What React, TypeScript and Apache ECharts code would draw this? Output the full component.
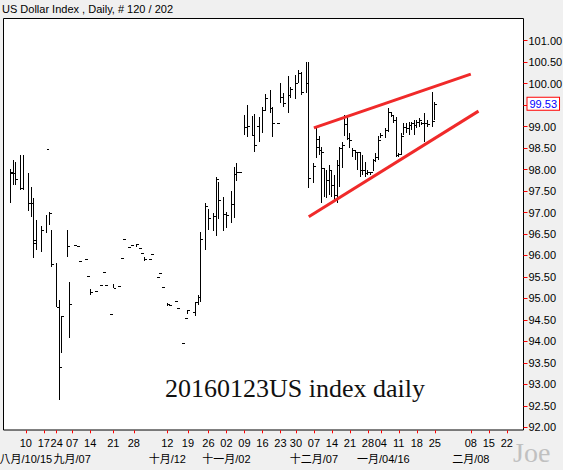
import React, { useEffect, useRef } from "react";
import * as echarts from "echarts";

const SLOT_COUNT = 202;

const weekTickSlots = [8, 15, 20, 26, 33, 42, 50, 63, 71, 79, 86, 93, 100, 107, 113, 120, 127, 134, 141, 146, 153, 160, 167, 181, 188, 195];
const weekTickLabels = ["10", "17", "24", "07", "14", "21", "28", "12", "19", "26", "02", "09", "16", "23", "30", "07", "14", "21", "28", "04", "11", "18", "25", "08", "15", "22"];
const monthSlots = [8, 26, 63, 86, 120, 147, 181];
const monthLabels = ["八月/10/15", "九月/07", "十月/12", "十一月/02", "十二月/07", "一月/04/16", "二月/08"];

const barSlot = [
  2, 3, 4, 6, 7, 9, 10, 11, 12, 14, 16, 17, 18, 20, 21, 22, 24, 25,
  27, 28, 29, 31, 32, 33, 35, 37, 38, 39, 41, 42, 44, 45, 46, 48, 49, 51, 52, 53, 54, 56, 57, 59, 60, 61,
  63, 64, 66, 67, 69, 70, 71, 74, 75, 76, 78, 79, 81, 82, 83, 85, 86, 88, 89, 90, 91,
  93, 94, 96, 97, 99, 100, 101, 103, 104, 106, 107, 108, 110, 111, 113, 114, 115, 117, 118,
  120, 121, 122, 123, 124, 125, 126, 127, 128, 129, 130, 131, 132, 133, 134, 135, 136, 137, 138, 139,
  140, 141, 142, 143, 144, 145, 146, 148, 149, 150, 151, 152, 153, 154, 155, 156, 157, 158, 159, 160,
  161, 162, 163, 164, 166, 167,
];
const barOpen = [
  null, 97.91, null, null, 97.56, null, 97.22, null, 96.36, null, null, 98.47, null, null, null, null, null, null,
  null, null, null, null, null, null, null, null, null, null, null, null, null, null, null, null, null, null, null, null, null, null, null, null, null, null,
  null, null, null, null, null, null, null, 94.68, null, null, null, null, null, null, null, null, 96.96, null, null, null, null,
  null, null, null, null, 99.01, null, null, null, null, null, null, null, null, null, null, null, null, null, null,
  null, null, 98.53, null, 98.03, null, null, null, null, null, null, null, null, null, null, null, null, null, 98.42, null,
  null, null, null, null, null, null, null, null, null, null, null, null, null, null, null, null, null, null, null, null,
  null, null, null, null, null, null,
];
const barHigh = [
  98.01, 98.22, 98.18, 98.34, 98.34, 97.93, 97.60, 97.33, 96.83, 96.69, 96.94, 97.02, 96.59, 95.82, 94.96, 94.58, 96.59, 95.38,
  96.24, 96.22, 95.87, 95.92, 95.52, 95.21, 95.17, 95.31, 95.61, 95.31, 94.64, 95.34, 95.29, 95.93, 96.38, 96.19, 96.24, 96.26, 96.18, 96.05, 95.97, 95.91, 96.03, 95.49, 95.59, 95.26,
  94.90, 94.84, 94.94, 94.77, 93.96, 94.54, 94.73, 94.92, 95.08, 96.54, 97.22, 97.08, 96.98, 97.82, 97.70, 97.35, 97.01, 97.50, 98.05, 98.15, 97.94,
  99.27, 99.50, 99.25, 99.29, 99.23, 99.46, 99.76, 99.85, 99.46, 99.08, 100.01, 99.78, 100.18, 99.93, 100.20, 100.32, 100.28, 100.51, 100.51,
  98.15, 98.96, 98.77, 98.53, 98.03, 97.99, 98.11, 97.99, 97.87, 98.22, 98.53, 98.65, 99.27, 99.23, 98.84, 98.50, 98.46, 98.42, 98.42, 98.34,
  98.18, 97.99, 97.95, 98.25, 98.38, 98.77, 98.84, 98.96, 99.43, 99.35, 99.27, 99.23, 98.38, 98.84, 99.08, 99.08, 99.11, 99.11, 99.15, 99.15,
  99.19, 99.11, 99.31, 99.15, 99.81, 99.58,
];
const barLow = [
  97.22, 97.64, 97.64, 97.52, 97.52, 97.04, 96.89, 95.94, 96.13, 96.09, 96.52, 96.71, 95.74, 94.79, 92.64, 93.72, 95.97, 94.07,
  96.24, 96.22, 95.87, 95.92, 95.52, 95.07, 95.17, 95.31, 95.61, 95.31, 94.64, 95.24, 95.29, 95.93, 96.38, 96.19, 96.24, 96.20, 96.18, 96.05, 95.86, 95.91, 96.03, 95.49, 95.59, 95.26,
  94.82, 94.84, 94.94, 94.77, 93.96, 94.54, 94.63, 94.58, 94.85, 94.92, 96.13, 96.59, 96.58, 96.45, 96.85, 96.58, 96.63, 96.76, 96.87, 97.74, 97.94,
  98.80, 98.75, 98.78, 98.42, 98.65, 98.86, 99.37, 99.31, 98.75, 99.08, 99.56, 99.46, 99.31, 99.66, 99.64, 100.02, 99.74, 99.78, 97.56,
  97.69, 98.27, 98.34, 97.22, 97.37, 97.33, 97.41, 97.37, 97.29, 97.22, 97.60, 98.03, 98.77, 98.69, 98.50, 98.30, 98.22, 97.99, 97.83, 97.87,
  97.83, 97.87, 97.87, 97.97, 98.18, 98.22, 98.73, 98.73, 98.88, 99.23, 99.08, 98.30, 98.30, 98.34, 98.80, 98.84, 98.80, 98.92, 98.80, 98.96,
  99.00, 99.04, 98.65, 99.00, 98.99, 99.15,
];
const barClose = [
  97.94, 97.91, 97.77, 97.56, null, 97.22, 97.23, 96.30, null, 96.59, null, 96.98, 95.80, 94.79, 93.41, 94.58, 96.22, 94.87,
  96.24, 96.22, 95.87, 95.92, 95.52, 95.16, 95.17, 95.31, 95.61, 95.31, 94.64, 95.24, 95.29, 95.93, 96.38, 96.19, 96.24, 96.26, 96.18, 96.05, 95.91, 95.91, 96.03, 95.49, 95.59, 95.26,
  94.86, 94.84, 94.94, 94.77, 93.96, 94.54, 94.73, 94.92, 95.04, 96.38, 97.15, 96.87, 96.92, 97.78, 97.29, 96.96, 96.94, 97.20, 97.90, 97.94, 97.94,
  98.98, 99.02, 98.80, 98.56, null, 99.39, 99.66, 99.43, 99.08, 99.08, 99.70, 99.54, 99.74, 99.87, 100.02, 100.24, 99.81, 100.01, 97.80,
  98.09, 98.71, 98.46, 98.42, null, 97.76, 97.99, 97.64, 97.41, 98.11, 98.50, 98.57, 99.05, 98.73, 98.69, 98.46, 98.41, 98.42, 97.99, 97.99,
  97.92, 97.94, 97.94, 98.22, 98.30, 98.69, 98.80, 98.92, 99.34, 99.27, 99.15, 98.34, 98.36, 98.77, 99.00, 98.97, 99.04, 99.08, 99.04, 99.11,
  99.15, 99.08, 99.08, 99.06, 99.13, 99.53,
];

const lastClose = 99.53;
const upperTrend = [[120, 98.97], [181, 100.22]];
const lowerTrend = [[118, 96.9], [184, 99.36]];

const yMin = 92;
const yMax = 101.5;
const yStep = 0.5;

export default function App() {
  const ref = useRef<HTMLDivElement>(null);
  useEffect(() => {
    if (!ref.current) return;
    const chart = echarts.init(ref.current, undefined, { renderer: "svg" });
    const cats = Array.from({ length: SLOT_COUNT }, (_, i) => String(i));
    const weekMap: Record<number, string> = {};
    weekTickSlots.forEach((s, i) => (weekMap[s] = weekTickLabels[i]));
    const monthMap: Record<number, string> = {};
    monthSlots.forEach((s, i) => (monthMap[s] = monthLabels[i]));
    const ohlc = barSlot.map((s, i) => [
      s,
      barOpen[i] == null ? "-" : barOpen[i],
      barHigh[i],
      barLow[i],
      barClose[i] == null ? "-" : barClose[i],
    ]);
    const st = { stroke: "#000", lineWidth: 1 };
    const font = "Liberation Sans";
    chart.setOption({
      animation: false,
      backgroundColor: "#f0f0f0",
      grid: { left: 4, right: 39.5, top: 19.2, bottom: 42.7, containLabel: false, outerBoundsMode: "none" },
      xAxis: [
        {
          type: "category",
          data: cats,
          boundaryGap: true,
          position: "bottom",
          offset: 3,
          axisLine: { show: false },
          axisTick: {
            show: true,
            alignWithLabel: true,
            length: 3,
            interval: (idx: number) => weekMap[idx] !== undefined,
            lineStyle: { color: "#ff0000" },
          },
          axisLabel: {
            interval: (idx: number) => weekMap[idx] !== undefined,
            formatter: (v: string) => weekMap[Number(v)] ?? "",
            color: "#000",
            fontSize: 11,
            fontFamily: font,
            margin: 7,
            showMinLabel: true,
            showMaxLabel: true,
          },
          splitLine: { show: false },
        },
        {
          type: "category",
          data: cats,
          boundaryGap: true,
          position: "bottom",
          offset: 3,
          axisLine: { show: false },
          axisTick: { show: false },
          axisLabel: {
            interval: (idx: number) => monthMap[idx] !== undefined,
            formatter: (v: string) => monthMap[Number(v)] ?? "",
            color: "#000",
            fontSize: 11,
            fontFamily: "Liberation Sans, Noto Sans CJK TC",
            margin: 23,
            showMinLabel: true,
            showMaxLabel: true,
          },
          splitLine: { show: false },
        },
      ],
      yAxis: {
        type: "value",
        position: "right",
        min: yMin,
        max: yMax,
        interval: yStep,
        axisLine: { show: false },
        axisTick: { show: true, length: 4, lineStyle: { color: "#ff0000" } },
        axisLabel: {
          formatter: (v: number) => v.toFixed(2),
          color: "#000",
          fontSize: 11,
          fontFamily: font,
          margin: 5,
          showMaxLabel: false,
        },
        splitLine: { show: false },
      },
      graphic: [
        {
          type: "rect",
          z: 0,
          shape: { x: 3.5, y: 18.5, width: 520, height: 411.5 },
          style: { fill: "#ffffff", stroke: "#000", lineWidth: 1 },
          silent: true,
        },
        {
          type: "text",
          x: 2,
          y: 3,
          style: { text: "US Dollar Index , Daily, # 120 / 202", fontSize: 11, fontFamily: font, fill: "#000" },
        },
        {
          type: "text",
          x: 165,
          y: 375,
          z: 10,
          style: { text: "20160123US index daily", fontSize: 26, fontFamily: "Liberation Serif", fill: "#111" },
        },
        {
          type: "text",
          x: 513,
          y: 438,
          style: { text: "Joe", fontSize: 28, fontFamily: "Liberation Serif", fill: "#c0c0c0" },
        },
      ],
      series: [
        {
          type: "custom",
          xAxisIndex: 0,
          z: 5,
          data: ohlc,
          encode: { x: 0, y: [2, 3] },
          renderItem: (params: any, api: any) => {
            const x = api.value(0);
            const o = api.value(1);
            const h = api.value(2);
            const l = api.value(3);
            const c = api.value(4);
            const pH = api.coord([x, h]);
            const pL = api.coord([x, l]);
            const n = Math.floor(pH[0]);
            const px = n + 0.5;
            const yh = Math.round(pH[1]);
            const yl = Math.max(Math.round(pL[1]), yh + 1);
            const children: any[] = [
              { type: "line", shape: { x1: px, y1: yh, x2: px, y2: yl }, style: st },
            ];
            if (Number.isFinite(o)) {
              const y = Math.round(api.coord([x, o])[1]) + 0.5;
              children.push({ type: "line", shape: { x1: n - 2, y1: y, x2: n, y2: y }, style: st });
            }
            if (Number.isFinite(c)) {
              const y = Math.round(api.coord([x, c])[1]) + 0.5;
              children.push({ type: "line", shape: { x1: n + 1, y1: y, x2: n + 3, y2: y }, style: st });
            }
            return { type: "group", children };
          },
        },
        {
          type: "line",
          xAxisIndex: 0,
          data: upperTrend,
          symbol: "none",
          z: 6,
          lineStyle: { color: "#f02a2a", width: 3 },
        },
        {
          type: "line",
          xAxisIndex: 0,
          data: lowerTrend,
          symbol: "none",
          z: 6,
          lineStyle: { color: "#f02a2a", width: 3 },
        },
        {
          type: "line",
          xAxisIndex: 0,
          data: [],
          markLine: {
            silent: true,
            symbol: "none",
            lineStyle: { color: "transparent", width: 0 },
            label: {
              show: true,
              position: "end",
              formatter: lastClose.toFixed(2),
              color: "#0000ff",
              fontSize: 11,
              fontFamily: font,
              backgroundColor: "#ffffff",
              borderColor: "#ff0000",
              borderWidth: 1,
              padding: [1, 2, 0, 2],
              distance: 4,
            },
            data: [{ yAxis: lastClose }],
          },
        },
      ],
    });
    return () => chart.dispose();
  }, []);
  return (
    <div
      ref={ref}
      style={{ position: "absolute", left: 0, top: 0, width: 563, height: 470 }}
    />
  );
}
